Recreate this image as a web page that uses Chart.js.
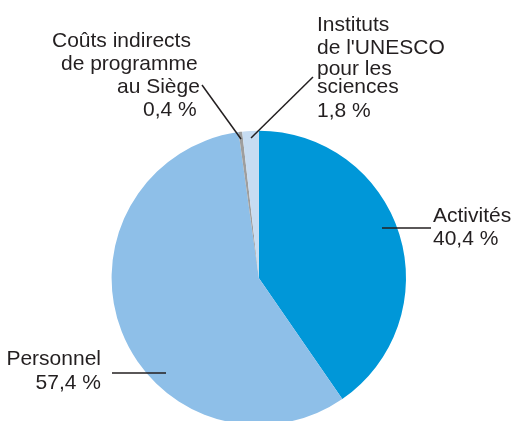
<!DOCTYPE html>
<html>
<head>
<meta charset="utf-8">
<script src="https://cdn.jsdelivr.net/npm/chart.js@4"></script>
<style>
  html, body { margin: 0; padding: 0; background: #fff; overflow: hidden; }
  canvas { display: block; }
</style>
</head>
<body>
<canvas id="budgetChart" width="515" height="430"></canvas>
<script>
const categories = ['Activités', 'Personnel', 'Coûts indirects de programme au Siège', "Instituts de l'UNESCO pour les sciences"];
const shares = [40.4, 57.4, 0.4, 1.8];
const sliceColors = ['#0097d8', '#8ebfe8', '#9e9e9e', '#c6dcf2'];

// label text, one entry per line: [text, x, baseline, align]
const labelLines = [
  ['Activités', 433, 222, 'left'],
  ['40,4 %', 433, 245, 'left'],
  ['Personnel', 101, 365, 'right'],
  ['57,4 %', 101, 389, 'right'],
  ['Coûts indirects', 52, 47, 'left'],
  ['de programme', 61, 70, 'left'],
  ['au Siège', 117, 93, 'left'],
  ['0,4 %', 143, 116, 'left'],
  ['Instituts', 317, 31, 'left'],
  ["de l'UNESCO", 317, 54, 'left'],
  ['pour les', 317, 75, 'left'],
  ['sciences', 317, 93, 'left'],
  ['1,8 %', 317, 117, 'left']
];

const leaderLines = [
  [382, 228, 431, 228],
  [112, 373, 166, 373],
  [202, 85, 241, 139],
  [313, 77, 251, 138]
];

const labelPlugin = {
  id: 'labels',
  afterDraw(chart) {
    const ctx = chart.ctx;
    ctx.save();
    ctx.strokeStyle = '#231f20';
    ctx.lineWidth = 1.5;
    leaderLines.forEach(l => {
      ctx.beginPath();
      ctx.moveTo(l[0], l[1]);
      ctx.lineTo(l[2], l[3]);
      ctx.stroke();
    });
    ctx.fillStyle = '#231f20';
    ctx.font = '21px "Liberation Sans", Arial, sans-serif';
    ctx.textBaseline = 'alphabetic';
    labelLines.forEach(t => {
      ctx.textAlign = t[3];
      ctx.fillText(t[0], t[1], t[2]);
    });
    ctx.restore();
  }
};

const ctx = document.getElementById('budgetChart').getContext('2d');
new Chart(ctx, {
  type: 'pie',
  data: {
    labels: categories,
    datasets: [{
      data: shares,
      backgroundColor: sliceColors,
      borderWidth: 0,
      hoverOffset: 0,
      offset: 0
    }]
  },
  options: {
    responsive: false,
    animation: false,
    events: [],
    layout: { padding: { left: 111.6, right: 109, top: 130.7, bottom: 4.9 } },
    plugins: {
      legend: { display: false },
      tooltip: { enabled: false }
    }
  },
  plugins: [labelPlugin]
});
</script>
</body>
</html>
